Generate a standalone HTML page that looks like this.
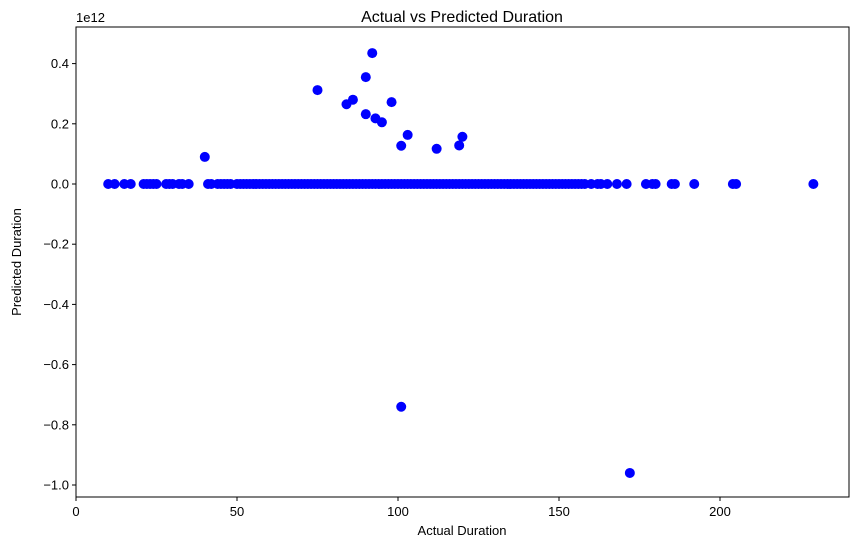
<!DOCTYPE html>
<html><head><meta charset="utf-8"><style>
body{margin:0;background:#fff}
svg text{font-family:"Liberation Sans","DejaVu Sans",sans-serif;fill:#000}
</style></head><body>
<svg id="chart" width="857" height="547">
<rect x="76" y="27" width="773" height="470" fill="none" stroke="#000" stroke-width="1"/>
<text x="462" y="22" font-size="16" text-anchor="middle">Actual vs Predicted Duration</text>
<text x="462" y="535" font-size="13" text-anchor="middle">Actual Duration</text>
<text x="21" y="262" font-size="13" text-anchor="middle" transform="rotate(-90 21 262)">Predicted Duration</text>
<text x="76" y="22" font-size="13">1e12</text>
<g id="axes"></g><g id="pts"></g>
</svg>
<script>
const xTicks=[0,50,100,150,200];
const yTicks=[0.4,0.2,0.0,-0.2,-0.4,-0.6,-0.8,-1.0];
const baseX=[10,12,15,17,21,22,23,24,25,28,29,30,32,33,35,41,42,44,45,46,47,48,50,51,52,53,54,55,56,57,58,59,60,61,62,63,64,65,66,67,68,69,70,71,72,73,74,75,76,77,78,79,80,81,82,83,84,85,86,87,88,89,90,91,92,93,94,95,96,97,98,99,100,101,102,103,104,105,106,107,108,109,110,111,112,113,114,115,116,117,118,119,120,121,122,123,124,125,126,127,128,129,130,131,132,133,134,135,136,137,138,139,140,141,142,143,144,145,146,147,148,149,150,151,152,153,154,155,156,157,158,160,162,163,165,168,171,177,179,180,185,186,192,204,205,229];
const outX=[40,75,84,86,90,90,92,93,95,98,101,103,112,119,120,101,172];
const outY=[0.09,0.312,0.265,0.28,0.355,0.232,0.435,0.218,0.205,0.272,0.127,0.163,0.117,0.128,0.157,-0.74,-0.96];
const xs=v=>76+v*3.22;
const ys=v=>184-v*301;
const NS="http://www.w3.org/2000/svg";
const ax=document.getElementById('axes'),pg=document.getElementById('pts');
function mk(t,a,p){const e=document.createElementNS(NS,t);for(const k in a)e.setAttribute(k,a[k]);p.appendChild(e);return e;}
xTicks.forEach(v=>{
 const l=mk('line',{x1:xs(v),x2:xs(v),y1:497,y2:501,stroke:'#000'},ax);
 
 
 const t=mk('text',{x:xs(v),y:516,'font-size':13,'text-anchor':'middle'},ax);t.textContent=v;
 
 
});
yTicks.forEach(v=>{
 const l=mk('line',{x1:72,x2:76,y1:ys(v),y2:ys(v),stroke:'#000'},ax);
 
 
 const t=mk('text',{x:69,y:ys(v)+4.5,'font-size':13,'text-anchor':'end'},ax);t.textContent=v.toFixed(1).replace('-','\u2212');
 
 
});
baseX.forEach(v=>{
 const c=mk('circle',{cx:xs(v),cy:ys(0),r:5,fill:'#0000ff'},pg);
 
 
});
outX.forEach((v,i)=>{
 const c=mk('circle',{cx:xs(v),cy:ys(outY[i]),r:5,fill:'#0000ff'},pg);
 
 
});
</script>
</body></html>
